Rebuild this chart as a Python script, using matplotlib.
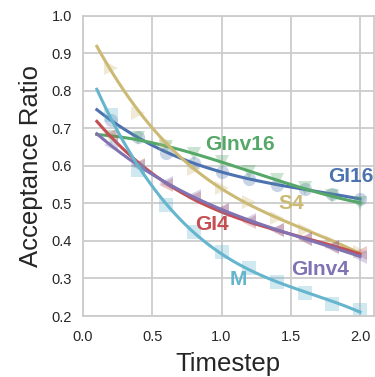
import numpy as np
import matplotlib
matplotlib.use("Agg")
import matplotlib.pyplot as plt

# timesteps where the acceptance ratio was measured
t = [0.2, 0.4, 0.6, 0.8, 1.0, 1.2, 1.4, 1.6, 1.8, 2.0]

gi16 = [0.722, 0.677, 0.635, 0.608, 0.585, 0.565, 0.549, 0.539, 0.525, 0.512]
ginv16 = [0.678, 0.675, 0.651, 0.632, 0.611, 0.585, 0.563, 0.540, 0.520, 0.501]
s4 = [0.860, 0.740, 0.662, 0.592, 0.540, 0.505, 0.460, 0.428, 0.397, 0.370]
gi4 = [0.683, 0.603, 0.549, 0.515, 0.483, 0.451, 0.429, 0.405, 0.385, 0.368]
ginv4 = [0.656, 0.600, 0.555, 0.520, 0.483, 0.455, 0.430, 0.405, 0.385, 0.358]
m = [0.735, 0.589, 0.496, 0.425, 0.371, 0.328, 0.291, 0.261, 0.232, 0.216]

names = ["GI16", "GInv16", "S4", "GI4", "GInv4", "M"]
series = [gi16, ginv16, s4, gi4, ginv4, m]
colors = ["#4C72B0", "#55A868", "#CCB974", "#C44E52", "#8172B2", "#64B5CD"]
markers = ["o", "v", ">", "<", "<", "s"]
# where the name of each curve is written
label_xy = [(1.93, 0.573), (1.13, 0.657), (1.50, 0.499), (0.93, 0.443), (1.71, 0.323), (1.12, 0.296)]

plt.rcParams['font.family'] = ['Liberation Sans', 'DejaVu Sans']

fig = plt.figure(figsize=(3.75, 3.77), dpi=100)
ax = fig.add_axes([0.2213, 0.1618, 0.7757, 0.7958])

xs = np.linspace(0.1, 2.0, 200)
for name, y, c, mk, (lx, ly) in zip(names, series, colors, markers, label_xy):
    ax.plot(t, y, linestyle="none", marker=mk, markersize=9.5, color=c,
            alpha=0.3, markeredgewidth=0)
    # smooth fit through the measurements
    coef = np.polyfit(t, y, 3)
    ax.plot(xs, np.polyval(coef, xs), color=c, linewidth=2.2)
    ax.text(lx, ly, name, color=c, fontsize=15, fontweight="bold",
            ha="center", va="center")

ax.set_xlim(0, 2.1)
ax.set_ylim(0.2, 1.0)
ax.set_xticks([0.0, 0.5, 1.0, 1.5, 2.0])
ax.set_yticks(np.arange(0.2, 1.01, 0.1))
ax.set_xlabel("Timestep", fontsize=18.5, color="#262626", labelpad=6)
ax.set_ylabel("Acceptance Ratio", fontsize=18.5, color="#262626", labelpad=6)
ax.tick_params(axis="x", labelsize=10.5, colors="#262626", length=0, pad=10)
ax.tick_params(axis="y", labelsize=10.5, colors="#262626", length=0, pad=8)
ax.grid(True, color="#cccccc", linewidth=1.3)
ax.set_axisbelow(True)
for s in ax.spines.values():
    s.set_color("#cccccc")
    s.set_linewidth(1.3)

fig.savefig("out.png", dpi=100)
